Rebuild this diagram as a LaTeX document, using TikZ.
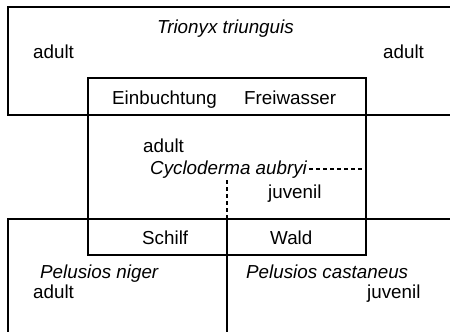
\documentclass[tikz,border=0pt]{standalone}
\usepackage{fontspec}
\setmainfont{Liberation Sans}
\usetikzlibrary{positioning}
\tikzset{
  zone/.style={line width=1.3pt},
  edge/.style={line width=1.1pt, dash pattern=on 4pt off 3pt},
  txt/.style={font=\fontsize{18.8}{20}\selectfont, inner sep=0pt, anchor=base west},
  art/.style={txt, font=\fontsize{18.8}{20}\selectfont\itshape},
}

\begin{document}
\begin{tikzpicture}[x=1pt,y=-1pt]
\useasboundingbox (0,0) rectangle (450,332);
% habitat zones
\draw[zone] (450,7) -- (8,7) -- (8,115) -- (450,115);
\draw[zone] (450,219) -- (8,219) -- (8,332);
\draw[zone] (227,219) -- (227,332);
\draw[zone] (88,78) rectangle (366,255);
% species and stages
\node[art] (tri) at (157,33) {Trionyx triunguis};
\node[txt] (triA) at (33,58) {adult};
\node[txt] (triB) at (383,58) {adult};
\node[txt] (einb) at (112,104) {Einbuchtung};
\node[txt] (frei) at (244,104) {Freiwasser};
\node[txt] (cycA) at (143,152) {adult};
\node[art] (cyc) at (150,174) {Cycloderma aubryi};
\node[txt] (cycJ) at (268,198) {juvenil};
\node[txt] (schilf) at (142,244) {Schilf};
\node[txt] (wald) at (270,244) {Wald};
\node[art] (niger) at (40,278) {Pelusios niger};
\node[txt] (nigerA) at (33,298) {adult};
\node[art] (cast) at (246,278) {Pelusios castaneus};
\node[txt] (castJ) at (367,298) {juvenil};
% dashed boundaries of Cycloderma
\coordinate (cycE) at (365,169);
\coordinate (cycS) at (227,180);
\coordinate (cycB) at (227,219);
\draw[edge] ([xshift=2pt]cyc.east |- cycE) -- (cycE);
\draw[edge] (cycS) -- (cycB);
\end{tikzpicture}
\end{document}
